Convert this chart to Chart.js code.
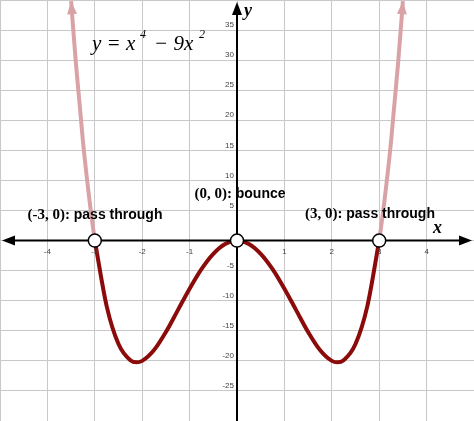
<!DOCTYPE html>
<html>
<head>
<script src="https://cdn.jsdelivr.net/npm/chart.js@4"></script>
<style>body{margin:0;background:#fff}</style>
</head>
<body>
<canvas id="c" width="474" height="421"></canvas>
<script>
// curve
const innerX = [-3, -2.75, -2.5, -2.25, -2.12, -2, -1.75, -1.5, -1.25, -1, -0.75, -0.5, -0.25, 0,
  0.25, 0.5, 0.75, 1, 1.25, 1.5, 1.75, 2, 2.12, 2.25, 2.5, 2.75, 3];
const innerY = [0, -10.9, -17.2, -19.9, -20.25, -20, -18.2, -15.2, -11.6, -8, -4.75, -2.2, -0.56, 0,
  -0.56, -2.2, -4.75, -8, -11.6, -15.2, -18.2, -20, -20.25, -19.9, -17.2, -10.9, 0];
const leftX = [-3.5, -3.4, -3.25, -3.1, -3];
const leftY = [39.8, 29.6, 16.5, 5.9, 0];
const rightX = [3, 3.1, 3.25, 3.4, 3.5];
const rightY = [0, 5.9, 16.5, 29.6, 39.8];
const zeroX = [-3, 0, 3];
const xTicks = [-4, -3, -2, -1, 1, 2, 3, 4];
const yTicks = [-25, -20, -15, -10, -5, 5, 10, 15, 20, 25, 30, 35];

const pts = (xs, ys) => xs.map((x, i) => ({x, y: ys[i]}));
const dark = '#8b0a0a', pink = '#d9a3a6';

const overlay = {
  id: 'overlay',
  afterDatasetsDraw(chart) {
    const ctx = chart.ctx, sx = chart.scales.x, sy = chart.scales.y;
    const x0 = sx.getPixelForValue(0), y0 = sy.getPixelForValue(0);
    ctx.save();
    ctx.strokeStyle = '#000'; ctx.fillStyle = '#000'; ctx.lineWidth = 2;
    ctx.beginPath(); ctx.moveTo(8, y0); ctx.lineTo(466, y0); ctx.moveTo(x0, 8); ctx.lineTo(x0, 421); ctx.stroke();
    const tri = (x, y, ang, col) => {
      ctx.save(); ctx.translate(x, y); ctx.rotate(ang); ctx.fillStyle = col;
      ctx.beginPath(); ctx.moveTo(0, 0); ctx.lineTo(-13, -5); ctx.lineTo(-13, 5); ctx.closePath(); ctx.fill(); ctx.restore();
    };
    tri(2, y0, Math.PI, '#000'); tri(472, y0, 0, '#000'); tri(x0, 2, -Math.PI / 2, '#000');
    // curve end arrows
    const ends = [[leftX[1], leftY[1], leftX[0], leftY[0]], [rightX[3], rightY[3], rightX[4], rightY[4]]];
    ends.forEach(([ax, ay, bx, by]) => {
      const px = sx.getPixelForValue(bx), py = sy.getPixelForValue(by);
      const ang = Math.atan2(py - sy.getPixelForValue(ay), px - sx.getPixelForValue(ax));
      tri(px, py, ang, pink);
    });
    ctx.font = '8px "Liberation Sans"'; ctx.fillStyle = '#444';
    ctx.textAlign = 'center'; ctx.textBaseline = 'top';
    xTicks.forEach(v => ctx.fillText(String(v), sx.getPixelForValue(v), y0 + 7));
    ctx.textAlign = 'right'; ctx.textBaseline = 'middle';
    yTicks.forEach(v => ctx.fillText(String(v), x0 - 3, sy.getPixelForValue(v) - 5));
    ctx.fillStyle = '#000';
    ctx.font = 'italic bold 18px "Liberation Serif"'; ctx.textAlign = 'left';
    ctx.fillText('x', 433, y0 - 12);
    ctx.fillText('y', 244, 11);
    ctx.font = 'italic 21px "Liberation Serif"';
    ctx.fillText('y = x', 92, 44);
    ctx.fillText('\u2212 9x', 154, 44);
    ctx.font = 'italic 12px "Liberation Serif"';
    ctx.fillText('4', 140, 35); ctx.fillText('2', 199, 35);
    const lab = (a, b, cx, cy) => {
      ctx.font = 'bold 15px "Liberation Serif"'; const wa = ctx.measureText(a).width;
      ctx.font = 'bold 14px "Liberation Sans"'; const wb = ctx.measureText(b).width;
      let x = cx - (wa + wb) / 2;
      ctx.font = 'bold 15px "Liberation Serif"'; ctx.fillText(a, x, cy);
      ctx.font = 'bold 14px "Liberation Sans"'; ctx.fillText(b, x + wa, cy);
    };
    lab('(-3, 0): ', 'pass through', 95, 215);
    lab('(0, 0): ', 'bounce', 240, 194);
    lab('(3, 0): ', 'pass through', 370, 214);
    ctx.restore();
  }
};

const line = (d, col) => ({data: d, showLine: true, borderColor: col, borderWidth: 4, pointRadius: 0, cubicInterpolationMode: 'monotone'});

new Chart(document.getElementById('c'), {
  type: 'scatter',
  data: {
    datasets: [
      line(pts(leftX, leftY), pink),
      line(pts(rightX, rightY), pink),
      line(pts(innerX, innerY), dark),
    ]
  },
  options: {
    responsive: false, animation: false,
    layout: {padding: 0},
    plugins: {legend: {display: false}, tooltip: {enabled: false}},
    scales: {
      x: {type: 'linear', min: -5, max: 5, ticks: {display: false, stepSize: 1},
          grid: {color: '#c8c8c8', drawTicks: false}, border: {display: false}},
      y: {type: 'linear', min: -30, max: 40, ticks: {display: false, stepSize: 5},
          grid: {color: '#c8c8c8', drawTicks: false}, border: {display: false}}
    }
  },
  plugins: [overlay, {
    id: 'circles',
    afterDraw(chart) {
      const ctx = chart.ctx, sx = chart.scales.x, sy = chart.scales.y;
      ctx.save(); ctx.fillStyle = '#fff'; ctx.strokeStyle = '#000'; ctx.lineWidth = 1.5;
      zeroX.forEach(v => { ctx.beginPath(); ctx.arc(sx.getPixelForValue(v), sy.getPixelForValue(0), 6.5, 0, 2 * Math.PI); ctx.fill(); ctx.stroke(); });
      ctx.restore();
    }
  }]
});
</script>
</body>
</html>
